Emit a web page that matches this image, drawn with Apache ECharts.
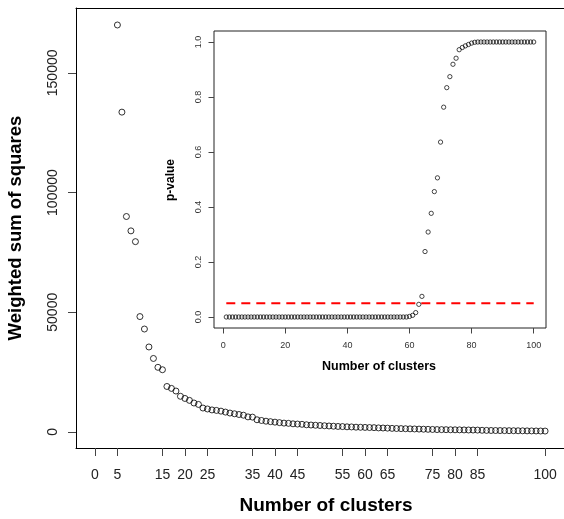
<!DOCTYPE html>
<html>
<head>
<meta charset="utf-8">
<script src="https://cdn.jsdelivr.net/npm/echarts@6/dist/echarts.min.js"></script>
<style>html,body{margin:0;padding:0;background:#fff}#c{width:564px;height:519px}</style>
</head>
<body>
<div id="c"></div>
<script>
// Main plot: weighted sum of squares by number of clusters (5..100)
const mainClusters = [5,6,7,8,9,10,11,12,13,14,15,16,17,18,19,20,21,22,23,24,25,26,27,28,29,30,31,32,33,34,35,36,37,38,39,40,41,42,43,44,45,46,47,48,49,50,51,52,53,54,55,56,57,58,59,60,61,62,63,64,65,66,67,68,69,70,71,72,73,74,75,76,77,78,79,80,81,82,83,84,85,86,87,88,89,90,91,92,93,94,95,96,97,98,99,100];
const wss = [170000,133600,90000,84000,79500,48200,43000,35500,30700,27000,26000,19000,18200,17100,14900,14000,13200,12100,11500,10000,
  9600,9200,9000,8700,8300,7900,7600,7300,7000,6300,6200,5100,4800,4500,4300,4100,3900,3700,3600,3400,
  3300,3200,3000,2900,2800,2700,2600,2500,2400,2300,2250,2150,2100,2000,1950,1900,1850,1800,1700,1650,
  1600,1500,1450,1400,1350,1300,1250,1200,1150,1100,1050,1000,980,950,920,900,880,850,820,800,
  780,700,650,620,600,580,560,540,520,500,480,460,440,420,400,380];
const mainXTicks = [0,5,15,20,25,35,40,45,55,60,65,75,80,85,100];
const mainYTicks = [0,50000,100000,150000];

// Inset: p-value by number of clusters (1..100)
const insetClusters = Array.from({length:100}, (_, i) => i + 1);
const pvalues = [
  0,0,0,0,0,0,0,0,0,0, 0,0,0,0,0,0,0,0,0,0,
  0,0,0,0,0,0,0,0,0,0, 0,0,0,0,0,0,0,0,0,0,
  0,0,0,0,0,0,0,0,0,0, 0,0,0,0,0,0,0,0,0,0.002,
  0.006,0.016,0.046,0.075,0.238,0.309,0.377,0.456,0.506,0.636,
  0.763,0.834,0.874,0.919,0.941,0.972,0.980,0.986,0.991,0.996,
  0.999,1,1,1,1,1,1,1,1,1, 1,1,1,1,1,1,1,1,1,1];
const insetXTicks = [0,20,40,60,80,100];
const insetYTicks = [0,0.2,0.4,0.6,0.8,1.0];
const threshold = 0.05;
const thresholdRange = [1, 100];

const FONT = "'Liberation Sans', Arial, Helvetica, sans-serif";
const chart = echarts.init(document.getElementById('c'), null, {renderer:'canvas'});

const option = {
  backgroundColor: '#fff',
  animation: false,
  grid: [
    {left: 76, top: 8, width: 492, height: 440, containLabel: false},
    {left: 214, top: 31, width: 332, height: 297, containLabel: false, show: true, borderColor: '#222', borderWidth: 1, backgroundColor: '#fff'}
  ],
  xAxis: [
    {gridIndex: 0, type: 'value', min: -4.2, max: 104.2, position: 'bottom',
     axisLine: {show: true, onZero: false, lineStyle: {color: '#000', width: 1}},
     axisTick: {show: true, customValues: mainXTicks, length: 8, lineStyle: {color: '#444'}},
     axisLabel: {customValues: mainXTicks, fontSize: 14, fontFamily: FONT, color: '#222', margin: 20, formatter: v => String(v)},
     splitLine: {show: false}},
    {gridIndex: 0, type: 'value', min: -4.2, max: 104.2, position: 'top',
     axisLine: {show: true, onZero: false, lineStyle: {color: '#000', width: 1}},
     axisTick: {show: false}, axisLabel: {show: false}, splitLine: {show: false}},
    {gridIndex: 1, type: 'value', min: -2.96, max: 103.96, position: 'bottom',
     axisLine: {show: false, onZero: false},
     axisTick: {show: true, customValues: insetXTicks, length: 5.5, lineStyle: {color: '#444'}},
     axisLabel: {customValues: insetXTicks, fontSize: 9, fontFamily: FONT, color: '#333', margin: 13, formatter: v => String(v)},
     splitLine: {show: false}}
  ],
  yAxis: [
    {gridIndex: 0, type: 'value', min: -6700, max: 177100, position: 'left',
     axisLine: {show: true, onZero: false, lineStyle: {color: '#000', width: 1}},
     axisTick: {show: true, customValues: mainYTicks, length: 8, lineStyle: {color: '#444'}},
     axisLabel: {customValues: mainYTicks, rotate: 90, fontSize: 14, fontFamily: FONT, color: '#222', margin: 16, formatter: v => String(v)},
     splitLine: {show: false}},
    {gridIndex: 1, type: 'value', min: -0.04, max: 1.04, position: 'left',
     axisLine: {show: false, onZero: false},
     axisTick: {show: true, customValues: insetYTicks, length: 5.5, lineStyle: {color: '#444'}},
     axisLabel: {customValues: insetYTicks, rotate: 90, fontSize: 9, fontFamily: FONT, color: '#333', margin: 11, formatter: v => v.toFixed(1)},
     splitLine: {show: false}}
  ],
  series: [
    {type: 'scatter', xAxisIndex: 0, yAxisIndex: 0,
     data: mainClusters.map((c, i) => [c, wss[i]]),
     symbol: 'circle', symbolSize: 6,
     itemStyle: {color: 'rgba(0,0,0,0)', borderColor: '#000', borderWidth: 1},
     silent: true},
    {type: 'line', xAxisIndex: 2, yAxisIndex: 1,
     data: thresholdRange.map(x => [x, threshold]),
     symbol: 'none', lineStyle: {color: '#ff0000', width: 2.2, type: [9, 6]},
     silent: true, z: 1},
    {type: 'scatter', xAxisIndex: 2, yAxisIndex: 1,
     data: insetClusters.map((c, i) => [c, pvalues[i]]),
     symbol: 'circle', symbolSize: 4.3,
     itemStyle: {color: 'rgba(0,0,0,0)', borderColor: '#000', borderWidth: 0.9},
     silent: true, z: 3}
  ],
  graphic: [
    {type: 'text', x: 16, y: 228, rotation: Math.PI / 2,
     style: {text: 'Weighted sum of squares', font: 'bold 18.5px ' + FONT, fill: '#000', align: 'center', verticalAlign: 'middle'}},
    {type: 'text', x: 326, y: 506,
     style: {text: 'Number of clusters', font: 'bold 19px ' + FONT, fill: '#000', align: 'center', verticalAlign: 'middle'}},
    {type: 'text', x: 171, y: 180, rotation: Math.PI / 2,
     style: {text: 'p-value', font: 'bold 12px ' + FONT, fill: '#000', align: 'center', verticalAlign: 'middle'}},
    {type: 'text', x: 379, y: 367,
     style: {text: 'Number of clusters', font: 'bold 12.5px ' + FONT, fill: '#000', align: 'center', verticalAlign: 'middle'}}
  ]
};
chart.setOption(option);
</script>
</body>
</html>
